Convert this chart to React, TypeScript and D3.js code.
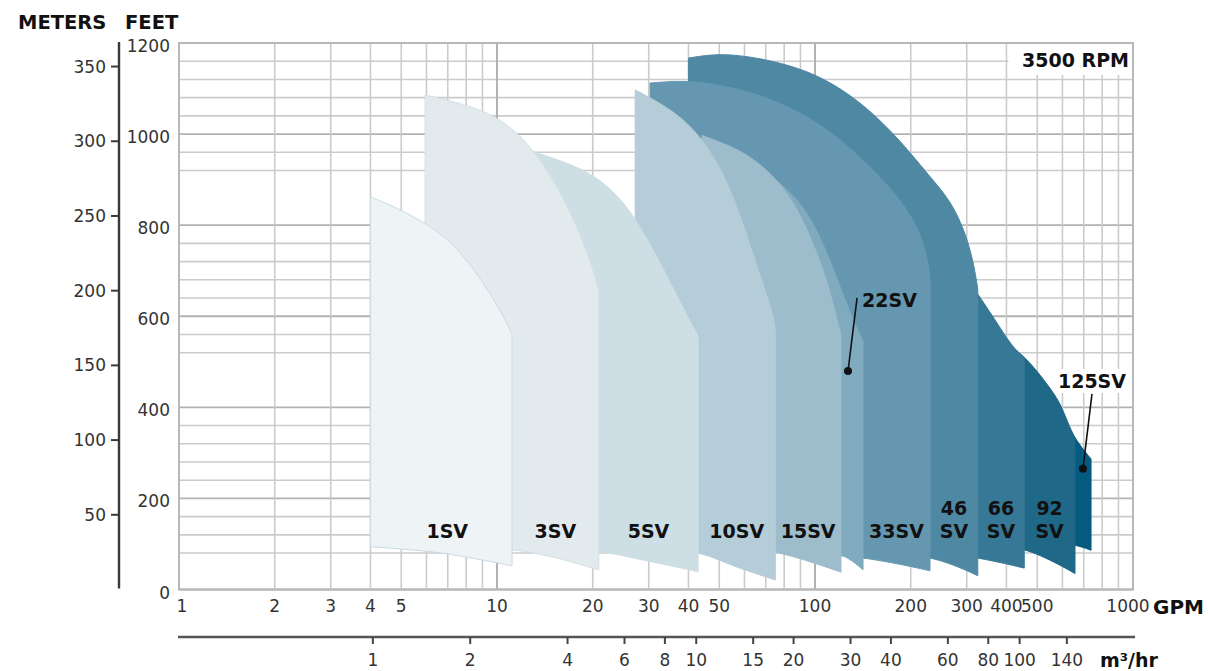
import React from "react";
import * as d3 from "d3";

// ---------------- data ----------------
const gpmTickValues = [1, 2, 3, 4, 5, 10, 20, 30, 40, 50, 100, 200, 300, 400, 500, 1000];
const m3TickValues = [1, 2, 4, 6, 8, 10, 15, 20, 30, 40, 60, 80, 100, 140];
const feetTickValues = [0, 200, 400, 600, 800, 1000, 1200];
const meterTickValues = [50, 100, 150, 200, 250, 300, 350];
const feetMinorGrid = [80, 120, 160, 240, 280, 320, 360, 520, 560, 640, 680, 720, 760, 920, 960, 1040, 1080, 1120, 1160];

const seriesNames = ["1SV", "3SV", "5SV", "10SV", "15SV", "22SV", "33SV", "46SV", "66SV", "92SV", "125SV"];
const seriesLabelLines = [["1SV"], ["3SV"], ["5SV"], ["10SV"], ["15SV"], [], ["33SV"], ["46", "SV"], ["66", "SV"], ["92", "SV"], []];

// top (max head) curves: [GPM, feet]
const top1SV = [[4, 862], [4.78, 840], [5.73, 811], [6.86, 776], [7.93, 728], [8.84, 684], [9.71, 640], [10.44, 601], [10.91, 575], [11.15, 560]];
const top3SV = [[5.94, 1086], [7.65, 1068], [9.5, 1046], [11.4, 1009], [13.1, 961], [15.2, 895], [17.6, 807], [19.6, 724], [20.9, 658]];
const top5SV = [[10.2, 985], [13, 961], [16.9, 936], [21.6, 899], [26.8, 827], [32.6, 717], [38.4, 620], [42.9, 555]];
const top10SV = [[27.2, 1097], [32.6, 1068], [39, 1031], [45.1, 980], [51.3, 917], [57.4, 834], [63.3, 745], [69.6, 658], [74.7, 592], [75, 570]];
const top15SV = [[44.1, 997], [55.9, 971], [67.2, 936], [79.6, 884], [90, 823], [100, 750], [109, 680], [115.5, 610], [120.7, 560]];
const top22SV = [[60, 950], [85, 875], [100, 800], [112, 720], [122, 650], [132, 590], [141.6, 545]];
const top33SV = [[30.3, 1112], [39.9, 1119], [55, 1103], [70.4, 1081], [89.8, 1048], [113.8, 1003], [145.6, 936], [178, 872], [207, 807], [225, 740], [230, 680]];
const top46SV = [[40, 1167], [50.4, 1178], [67.2, 1167], [89.8, 1145], [113.8, 1112], [145.6, 1059], [185, 987], [230, 906], [266, 855], [295, 790], [315, 720], [325, 660]];
const top66SV = [[150, 880], [250, 760], [325, 650], [373, 586], [420, 530], [455, 510]];
const top92SV = [[250, 700], [400, 540], [464, 508], [537, 451], [589, 412], [625, 364], [657, 333]];
const top125SV = [[400, 470], [600, 380], [667, 324], [733, 289], [738, 287]];

// bottom (min head) curves: [GPM, feet]
const bottom1SV = [[4, 94], [6.7, 80], [11.15, 52]];
const bottom3SV = [[5.94, 96], [11.2, 87], [15, 71], [20.9, 43]];
const bottom5SV = [[10.2, 96], [21, 83], [30, 62], [42.9, 39]];
const bottom10SV = [[27.2, 98], [43, 80], [58, 47], [75, 21]];
const bottom15SV = [[44.1, 98], [75, 82], [120.7, 38]];
const bottom22SV = [[60, 98], [120.7, 76], [141.6, 43]];
const bottom33SV = [[30.3, 100], [141.6, 69], [230, 41]];
const bottom46SV = [[40, 100], [230, 69], [325, 30]];
const bottom66SV = [[150, 100], [325, 69], [455, 47]];
const bottom92SV = [[250, 100], [455, 87], [657, 35]];
const bottom125SV = [[400, 110], [657, 97], [738, 86]];

const seriesTops = [top1SV, top3SV, top5SV, top10SV, top15SV, top22SV, top33SV, top46SV, top66SV, top92SV, top125SV];
const seriesBottoms = [bottom1SV, bottom3SV, bottom5SV, bottom10SV, bottom15SV, bottom22SV, bottom33SV, bottom46SV, bottom66SV, bottom92SV, bottom125SV];

// callouts: name, dot [GPM, feet], label anchor [GPM, feet]
const calloutNames = ["22SV", "125SV"];
const calloutDots = [[127, 480], [696, 265]];
const calloutLabels = [[140.6, 636], [743, 458]];

// ---------------- styles ----------------
const seriesFill = ["#eef3f5", "#e3eaee", "#cedee5", "#b4cdd8", "#9dbccc", "#80abbe", "#6598b0", "#4e88a3", "#367895", "#1f6888", "#055a80"];
const seriesStroke = ["#c8dbe3", "#d3e0e6", "#cedee5", "#b4cdd8", "#9dbccc", "#80abbe", "#6598b0", "#4e88a3", "#367895", "#1f6888", "#055a80"];

const W = 1208;
const H = 671;
const FONT = "'DejaVu Sans', sans-serif";

export default function App() {
  const x = d3.scaleLog().domain([1, 1000]).range([179, 1133]);
  const y = d3.scaleLinear().domain([0, 1200]).range([589.5, 43]);
  const yM = d3.scaleLinear().domain([0, 1200 / 3.28084]).range([589.5, 43]);
  const xM3 = d3.scaleLog().domain([1, 100]).range([x(4.07), x(440)]);

  const [xl, xr] = x.range();
  const [yb, yt] = y.range();

  const gpmGrid = d3.range(1, 10).concat(d3.range(10, 100, 10), d3.range(100, 1001, 100));
  const decades = [1, 10, 100, 1000];

  const lineTop = d3.line<number[]>().x((d) => x(d[0])).y((d) => y(d[1])).curve(d3.curveBasis);
  const lineBot = d3.line<number[]>().x((d) => x(d[0])).y((d) => y(d[1])).curve(d3.curveCatmullRom.alpha(0.5));

  const paths = seriesNames.map((_, i) => {
    const top = seriesTops[i];
    const bot = seriesBottoms[i];
    const left = top[0][0];
    const right = top[top.length - 1][0];
    const start = `M${x(left)},${y(bot[0][1])}`;
    const t = (lineTop(top) as string).replace(/^M/, "L");
    const down = `L${x(right)},${y(bot[bot.length - 1][1])}`;
    const b = (lineBot(bot.slice().reverse()) as string).replace(/^M[^LC]*/, "");
    return start + t + down + b + "Z";
  });

  const order = seriesNames.map((_, i) => i).reverse();

  // label x = middle of the visible part of each series
  const labelX = seriesNames.map((_, i) => {
    const top = seriesTops[i];
    const rightPx = x(top[top.length - 1][0]);
    let leftPx = x(top[0][0]);
    if (i > 0) {
      const prev = seriesTops[i - 1];
      leftPx = Math.max(leftPx, x(prev[prev.length - 1][0]));
    }
    return (leftPx + rightPx) / 2 + (i === 0 ? 6 : 0);
  });

  const gridMinor = "#cbcbcb";
  const gridMajor = "#b2b2b2";

  return (
    <svg width={W} height={H} style={{ position: "fixed", left: 0, top: 0, background: "#fff" }} fontFamily={FONT}>
      <rect x={0} y={0} width={W} height={H} fill="#fff" />
      {/* horizontal grid */}
      {feetMinorGrid.map((v) => (
        <line key={"hm" + v} x1={xl} x2={xr} y1={y(v)} y2={y(v)} stroke={gridMinor} strokeWidth={1.6} />
      ))}
      {feetTickValues.map((v) => (
        <line key={"hM" + v} x1={xl} x2={xr} y1={y(v)} y2={y(v)} stroke={gridMajor} strokeWidth={1.9} />
      ))}
      {/* vertical grid */}
      {gpmGrid.map((v) => (
        <line
          key={"v" + v}
          x1={x(v)}
          x2={x(v)}
          y1={yt}
          y2={yb}
          stroke={decades.includes(v) ? gridMajor : gridMinor}
          strokeWidth={decades.includes(v) ? 2 : 1.6}
        />
      ))}
      {/* plot frame */}
      <rect x={xl} y={yt} width={xr - xl} height={yb - yt} fill="none" stroke="#b8b8b8" strokeWidth={2} />

      {/* RPM box */}
      <rect x={x(400) + 2} y={yt + 1} width={xr - x(400) - 3} height={31} fill="#fff" />
      <text x={xr - 4} y={yt + 17} textAnchor="end" dominantBaseline="central" fontWeight="bold" fontSize={19} fill="#111">
        3500 RPM
      </text>

      {/* series areas */}
      {order.map((i) => (
        <path key={seriesNames[i]} d={paths[i]} fill={seriesFill[i]} stroke={seriesStroke[i]} strokeWidth={1} strokeLinejoin="round" />
      ))}

      {/* series labels */}
      {seriesNames.map((name, i) =>
        seriesLabelLines[i].map((ln, j, arr) => (
          <text
            key={name + j}
            x={labelX[i]}
            y={y(128) - (arr.length - 1 - j) * 23}
            textAnchor="middle"
            dominantBaseline="central"
            fontWeight="bold"
            fontSize={19}
            fill="#111"
          >
            {ln}
          </text>
        ))
      )}

      {/* callouts */}
      {calloutNames.map((name, i) => {
        const dx = x(calloutDots[i][0]);
        const dy = y(calloutDots[i][1]);
        const lx = x(calloutLabels[i][0]);
        const ly = y(calloutLabels[i][1]);
        const centered = i === 1;
        const tw = name.length * 13.6;
        const endX = centered ? lx : lx - 5;
        const endY = centered ? ly + 13 : ly - 2;
        return (
          <g key={name}>
            {centered && <rect x={lx - tw / 2 - 3} y={ly - 12} width={tw + 6} height={24} fill="#fff" />}
            <line x1={dx} y1={dy} x2={endX} y2={endY} stroke="#111" strokeWidth={1.6} />
            <circle cx={dx} cy={dy} r={4} fill="#111" />
            <text
              x={lx}
              y={ly}
              textAnchor={centered ? "middle" : "start"}
              dominantBaseline="central"
              fontWeight="bold"
              fontSize={19}
              fill="#111"
            >
              {name}
            </text>
          </g>
        );
      })}

      {/* left meters axis */}
      <line x1={119} x2={119} y1={yt - 1} y2={yb - 1} stroke="#3a3a3a" strokeWidth={2.4} />
      {meterTickValues.map((v) => (
        <g key={"m" + v}>
          <line x1={111} x2={119} y1={yM(v)} y2={yM(v)} stroke="#3a3a3a" strokeWidth={2} />
          <text x={106} y={yM(v)} textAnchor="end" dominantBaseline="central" fontSize={17} fill="#333">
            {v}
          </text>
        </g>
      ))}
      {/* feet labels */}
      {feetTickValues.map((v) => (
        <text key={"f" + v} x={170} y={y(v) + 3} textAnchor="end" dominantBaseline="central" fontSize={17} fill="#333">
          {v}
        </text>
      ))}
      <text x={18} y={22} dominantBaseline="central" fontWeight="bold" fontSize={19.5} fill="#111">
        METERS
      </text>
      <text x={125} y={22} dominantBaseline="central" fontWeight="bold" fontSize={19.5} fill="#111">
        FEET
      </text>

      {/* GPM axis labels */}
      {gpmTickValues.map((v) => (
        <text key={"g" + v} x={x(v) + (v === 1 ? 3 : v === 1000 ? -5 : 0)} y={yb + 16} textAnchor="middle" dominantBaseline="central" fontSize={17} fill="#333">
          {v}
        </text>
      ))}
      <text x={1153} y={yb + 17} dominantBaseline="central" fontWeight="bold" fontSize={20} fill="#111">
        GPM
      </text>

      {/* m3/hr axis */}
      <line x1={xl - 1} x2={xr + 2} y1={637} y2={637} stroke="#555" strokeWidth={2.4} />
      {m3TickValues.map((v) => (
        <g key={"q" + v}>
          <line x1={xM3(v)} x2={xM3(v)} y1={637} y2={644} stroke="#444" strokeWidth={2} />
          <text x={xM3(v)} y={660} textAnchor="middle" dominantBaseline="central" fontSize={17} fill="#333">
            {v}
          </text>
        </g>
      ))}
      <text x={1100} y={660} dominantBaseline="central" fontWeight="bold" fontSize={19} fill="#111">
        m³/hr
      </text>
    </svg>
  );
}
